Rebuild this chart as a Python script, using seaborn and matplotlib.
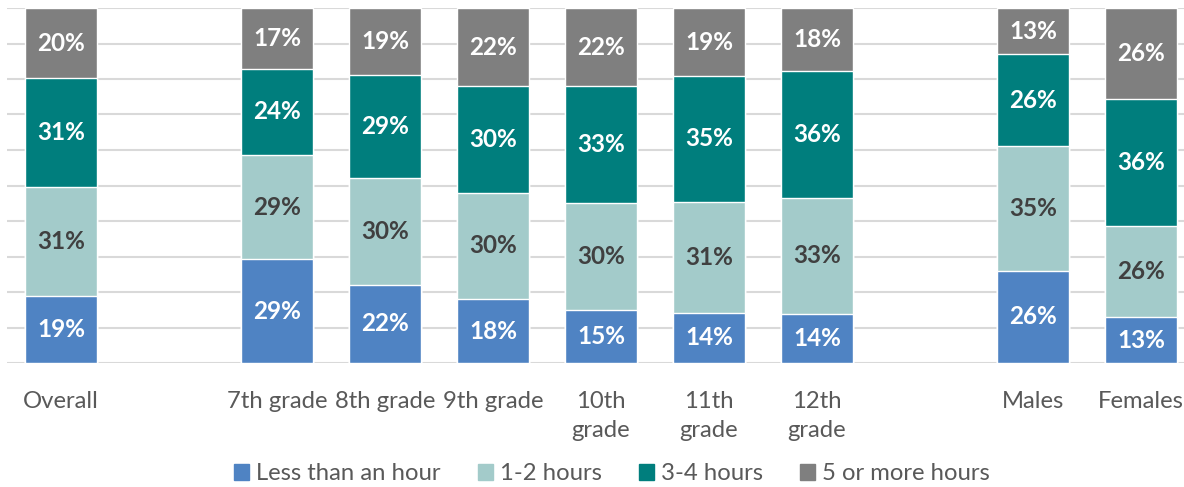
import matplotlib
matplotlib.use("Agg")
import matplotlib.pyplot as plt
import matplotlib.patches as mpatches
import numpy as np
import pandas as pd
import seaborn as sns

# Groups, with blank spacer slots between sections
groups = ["Overall", "7th grade", "8th grade", "9th grade", "10th grade",
          "11th grade", "12th grade", "Males", "Females"]
slot_order = ["Overall", "gap1", "7th grade", "8th grade", "9th grade", "10th grade",
              "11th grade", "12th grade", "gap2", "Males", "Females"]
tick_labels = ["Overall", "", "7th grade", "8th grade", "9th grade", "10th\ngrade",
               "11th\ngrade", "12th\ngrade", "", "Males", "Females"]

series = ["Less than an hour", "1-2 hours", "3-4 hours", "5 or more hours"]
less_than_hour = [19, 29, 22, 18, 15, 14, 14, 26, 13]
one_two_hours = [31, 29, 30, 30, 30, 31, 33, 35, 26]
three_four_hours = [31, 24, 29, 30, 33, 35, 36, 26, 36]
five_plus_hours = [20, 17, 19, 22, 22, 19, 18, 13, 26]

colors = ["#4F83C3", "#A3CBCA", "#007E7D", "#7F7F7F"]
label_colors = ["white", "#404040", "white", "white"]

sns.set_theme(style="white")
plt.rcParams["font.family"] = ["Lato", "DejaVu Sans"]

values = np.array([less_than_hour, one_two_hours, three_four_hours, five_plus_hours], dtype=float)
shares = values / values.sum(axis=0) * 100  # 100% stacked
tops = np.cumsum(shares, axis=0)
bottoms = tops - shares

fig = plt.figure(figsize=(11.84, 4.87), dpi=100)
ax = fig.add_axes([7 / 1184, 124 / 487, 1188 / 1184, 355 / 487])

# Draw cumulative heights from the top layer down so each layer shows its own segment
for i in range(len(series) - 1, -1, -1):
    df = pd.DataFrame({"group": groups, "top": tops[i]})
    sns.barplot(data=df, x="group", y="top", order=slot_order, color=colors[i],
                saturation=1, width=0.667, ax=ax, zorder=2)

pos = {g: slot_order.index(g) for g in groups}
for i in range(len(series)):
    for j, g in enumerate(groups):
        ax.text(pos[g], bottoms[i, j] + shares[i, j] / 2, f"{int(values[i, j])}%",
                ha="center", va="center", fontsize=17.5, fontweight="bold",
                color=label_colors[i], zorder=3)

ax.set_xlim(-0.5, len(slot_order) - 0.5)
ax.set_ylim(0, 100)
ax.set_yticks(np.arange(0, 101, 10))
ax.yaxis.grid(True, color="#D9D9D9", linewidth=1.5, zorder=0)
ax.set_axisbelow(True)
ax.set_yticklabels([])
ax.tick_params(axis="y", length=0)
ax.set_xticks(range(len(slot_order)))
ax.set_xticklabels(tick_labels, fontsize=17.2, color="#595959", linespacing=1.5)
ax.tick_params(axis="x", length=0, pad=20)
ax.set_xlabel("")
ax.set_ylabel("")
for s in ax.spines.values():
    s.set_visible(False)

handles = [mpatches.Patch(color=c, label=s) for c, s in zip(colors, series)]
fig.legend(handles=handles, loc="center", bbox_to_anchor=(612 / 1184, 1 - 474 / 487),
           ncol=4, frameon=False, fontsize=17.2, labelcolor="#595959",
           handlelength=0.62, handleheight=0.62, handletextpad=0.3, columnspacing=1.55)

fig.savefig("out.png", dpi=100)
